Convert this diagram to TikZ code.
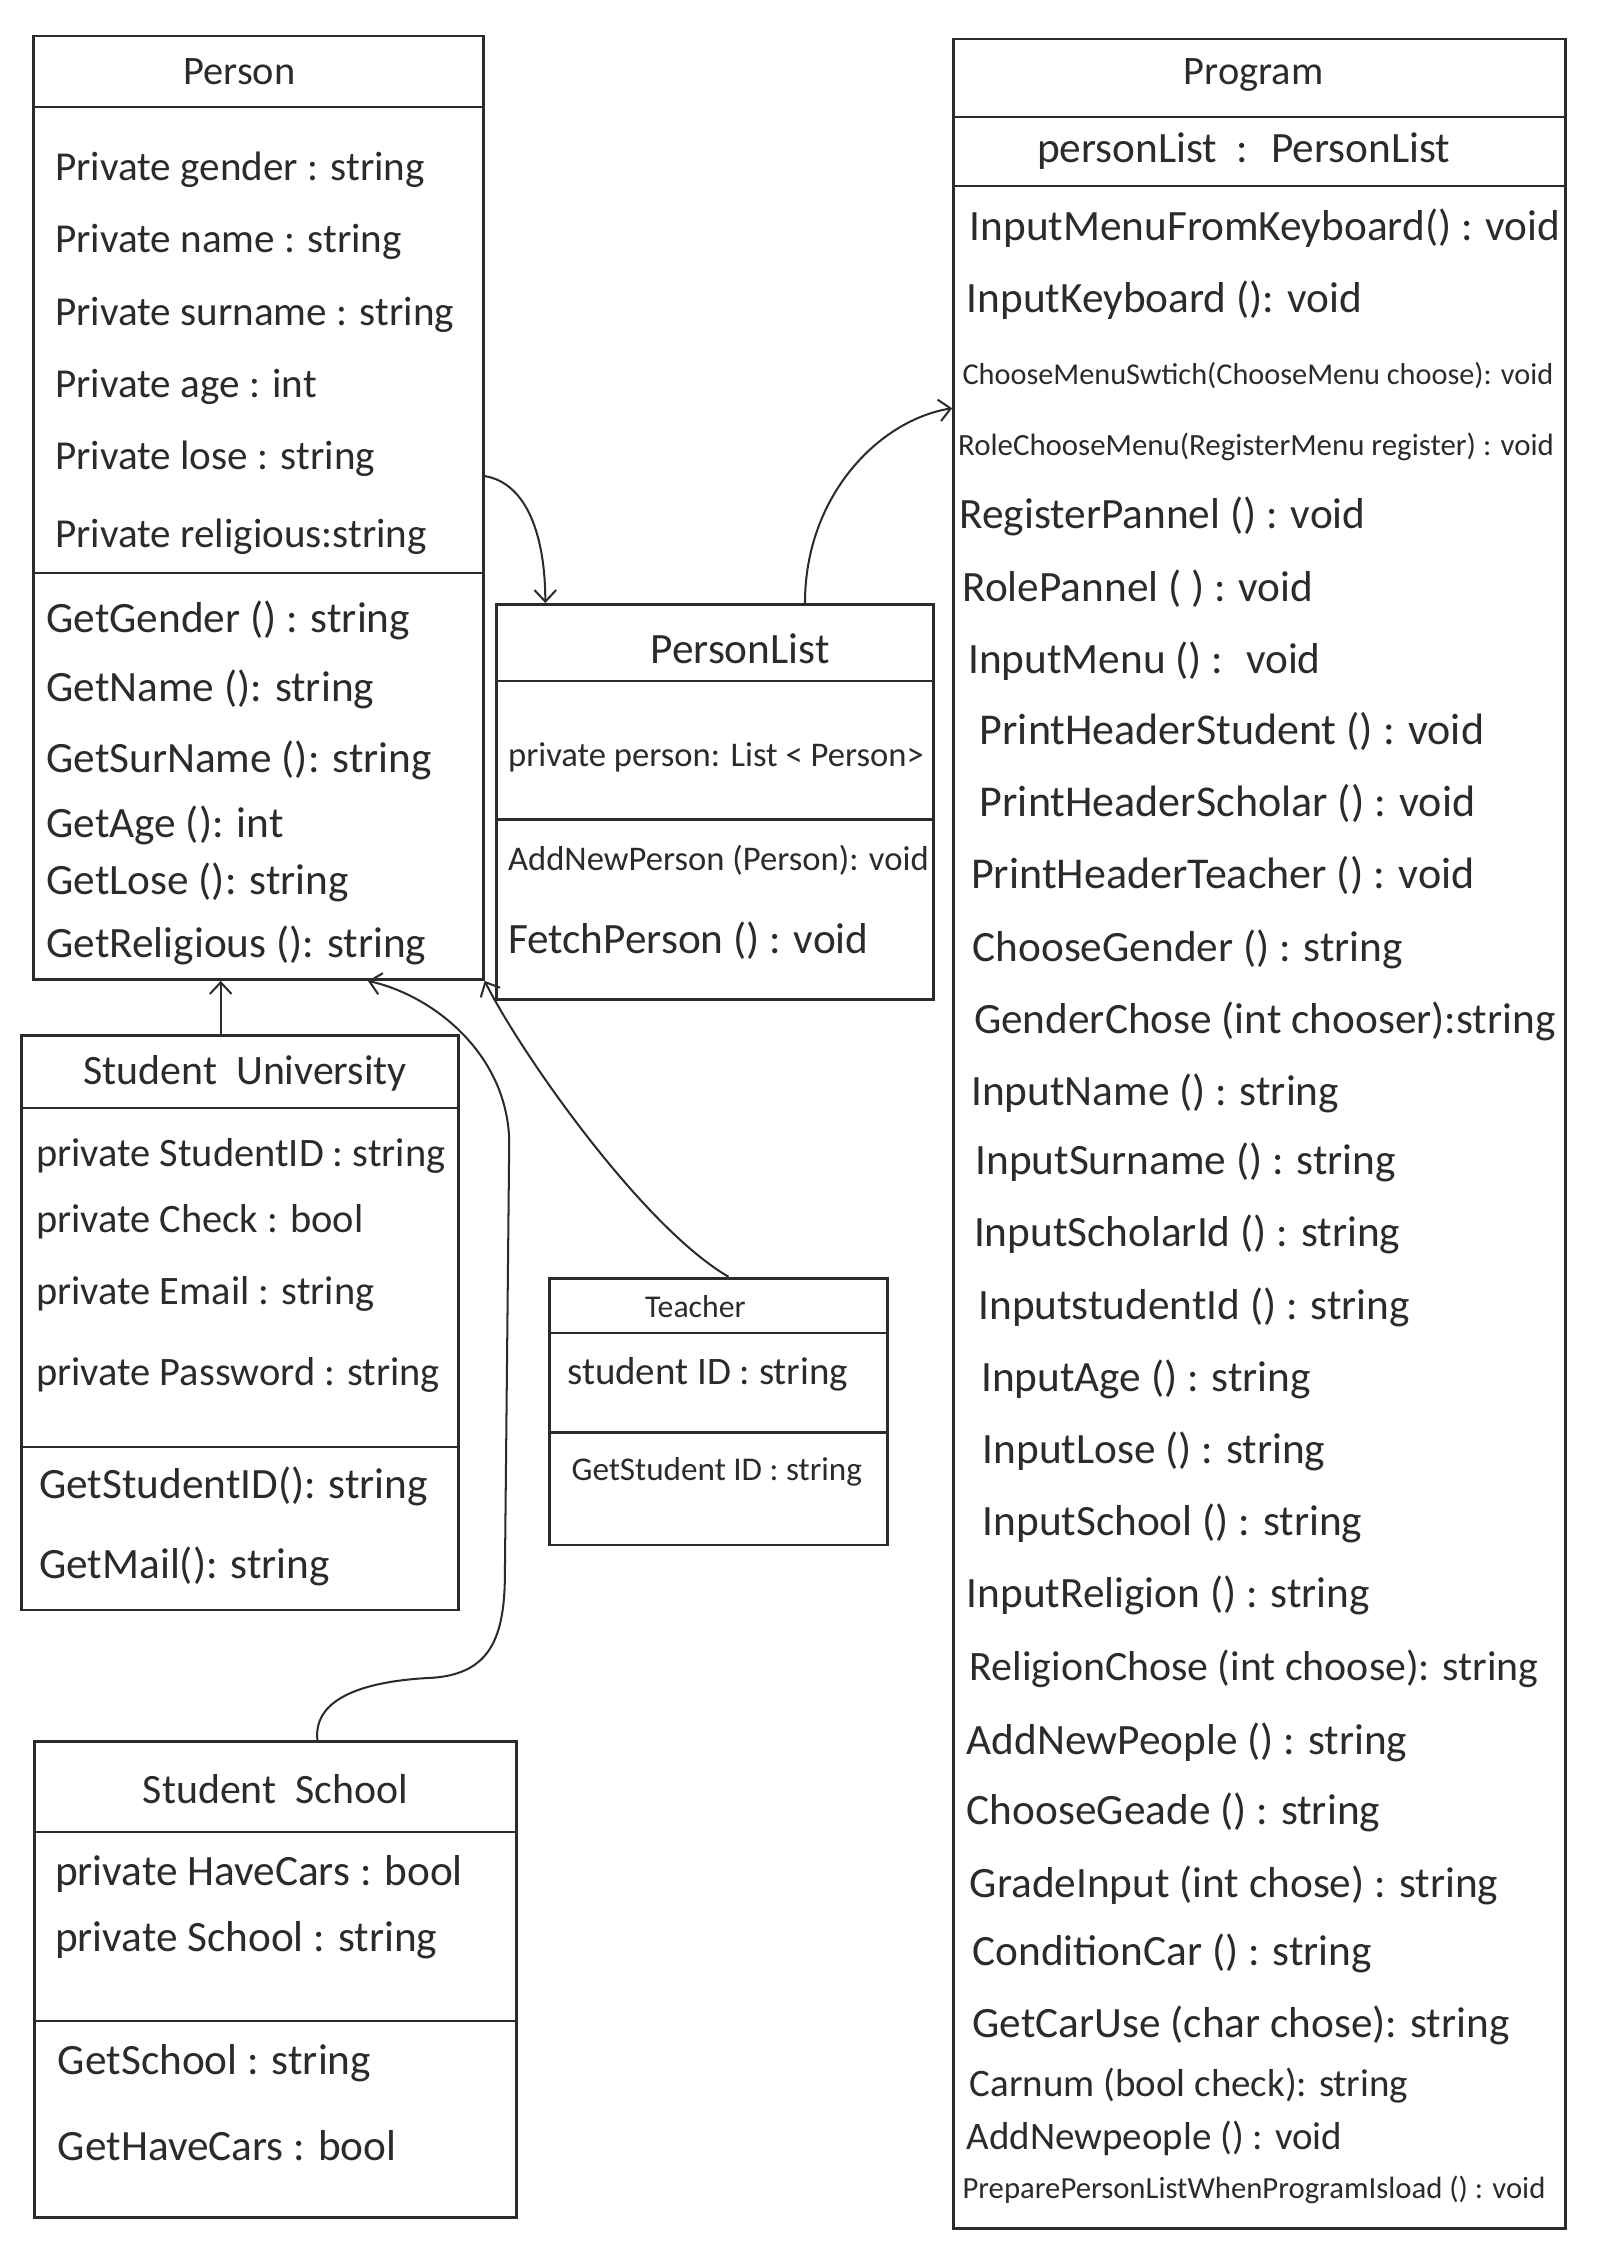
\documentclass[tikz,border=0pt]{standalone}
\usepackage{fontspec}
\setmainfont{Carlito}
\usetikzlibrary{arrows.meta,positioning,fit}
\definecolor{ink}{HTML}{2B2B2B}
\tikzset{
  classbox/.style={draw=ink,line width=1.9pt,inner sep=0pt},
  sep/.style={draw=ink,line width=1.6pt},
  title/.style={text=ink,inner sep=0pt,font=\fontsize{#1}{#1}\selectfont},
  title/.default=28,
  member/.style={text=ink,anchor=west,inner sep=0pt,font=\fontsize{#1}{#1}\selectfont},
  member/.default=28,
  arrow/.style={-{Straight Barb[length=8pt,width=15pt]},draw=ink,line width=1.4pt}
}

\begin{document}
\begin{tikzpicture}[x=1pt,y=-1pt]
\useasboundingbox (0,0) rectangle (1109,1568);

% class boxes
\node[classbox,fit={(23,25) (335,679)}] (person) {};
\node[classbox,fit={(344,419) (647,693)}] (plist) {};
\node[classbox,fit={(661,27) (1085,1545)}] (prog) {};
\node[classbox,fit={(15,718) (318,1116)}] (uni) {};
\node[classbox,fit={(381,886) (615,1071)}] (teacher) {};
\node[classbox,fit={(24,1207) (358,1537)}] (school) {};
\foreach \b/\y in {person/74,person/397,plist/472,plist/568,prog/81,prog/129,
    uni/768,uni/1003,teacher/924,teacher/993,school/1270,school/1401}
  \draw[sep] (\b.west |- 0,\y) -- (\b.east |- 0,\y);

% titles
\node[title] (person-t) at (166,50) {Person};
\node[title=30] (plist-t) at (513,450) {PersonList};
\node[title] (prog-t) at (869,52) {Program};
\node[title=30] (prog-a) at (862,105) {personList \ : \ PersonList};
\node[title=29] (uni-t) at (170,744) {Student \ University};
\node[title=22] (teacher-t) at (482,906) {Teacher};
\node[title=29] (school-t) at (191,1240) {Student \ School};

% Person
\foreach \y/\t [count=\i] in {118/Private gender : string,168/Private name : string,
    218/Private surname : string,268/Private age : int,318/Private lose : string,
    372/Private religious:string}
  \node[member=28.5] (person-a\i) at (38,\y) {\t};
\foreach \y/\t [count=\i] in {430/GetGender () : string,478/GetName (): string,
    527/GetSurName (): string,572/GetAge (): int,612/GetLose (): string,
    655/GetReligious (): string}
  \node[member=30] (person-m\i) at (32,\y) {\t};

% PersonList
\node[member=24] (plist-a1) at (352,525) {private person: List < Person>};
\node[member=24] (plist-m1) at (352,596) {AddNewPerson (Person): void};
\node[member=30] (plist-m2) at (352,652) {FetchPerson () : void};

% Program
\foreach \x/\y/\s/\t [count=\i] in {672/158/30/InputMenuFromKeyboard() : void,
    670/208/30/InputKeyboard (): void,
    667/260/21/ChooseMenuSwtich(ChooseMenu choose): void,
    664/310/21.4/RoleChooseMenu(RegisterMenu register) : void,
    665/358/30/RegisterPannel () : void,
    667/408/30/RolePannel ( ) : void,
    671/458/30/InputMenu () : \ void,
    679/507/30.5/PrintHeaderStudent () : void,
    679/557/30.5/PrintHeaderScholar () : void,
    673/607/30.5/PrintHeaderTeacher () : void,
    674/658/30/ChooseGender () : string,
    675/708/30/GenderChose (int chooser):string,
    673/758/30/InputName () : string,
    676/806/30/InputSurname () : string,
    675/856/30/InputScholarId () : string,
    678/906/30/InputstudentId () : string,
    680/956/30/InputAge () : string,
    681/1006/30/InputLose () : string,
    681/1056/30/InputSchool () : string,
    670/1106/30/InputReligion () : string,
    672/1157/29/ReligionChose (int choose): string,
    670/1208/30/AddNewPeople () : string,
    670/1256/30/ChooseGeade () : string,
    672/1307/30/GradeInput (int chose) : string,
    674/1354/30/ConditionCar () : string,
    674/1404/30/GetCarUse (char chose): string,
    672/1446/27/Carnum (bool check): string,
    670/1482/27/AddNewpeople () : void,
    667/1518/21.3/PreparePersonListWhenProgramIsload () : void}
  \node[member=\s] (prog-m\i) at (\x,\y) {\t};

% Student University
\foreach \y/\t [count=\i] in {801/private StudentID : string,847/private Check : bool,
    897/private Email : string,953/private Password : string}
  \node[member] (uni-a\i) at (25,\y) {\t};
\node[member=30] (uni-m1) at (27,1030) {GetStudentID(): string};
\node[member=30] (uni-m2) at (27,1086) {GetMail(): string};

% Teacher
\node[member=27] (teacher-a1) at (393,953) {student ID : string};
\node[member=23] (teacher-m1) at (396,1020) {GetStudent ID : string};

% Student School
\node[member=30] (school-a1) at (38,1299) {private HaveCars : bool};
\node[member=30] (school-a2) at (38,1345) {private School : string};
\node[member=30] (school-m1) at (40,1430) {GetSchool : string};
\node[member=30] (school-m2) at (40,1487) {GetHaveCars : bool};

% connectors
\draw[arrow] (person.east |- 0,330) .. controls +(30,5) and +(0,-45) .. (plist.north -| 378,0);
\draw[arrow] (plist.north -| 558,0) .. controls +(0,-75) and +(-50,8) .. (prog.west |- 0,283);
\draw[arrow] (uni.north -| 153,0) -- (person.south -| 153,0);
\draw[arrow] (teacher.north -| 505,0) .. controls +(-60,-35) and +(25,50) .. (person.south east);
\draw[arrow] (school.north -| 220,0) .. controls +(-3,-30) and +(-45,2) .. (300,1163)
  .. controls +(40,-3) and +(0,45) .. (350,1090) -- (353,790)
  .. controls +(-2,-60) and +(45,10) .. (person.south -| 255,0);
\end{tikzpicture}
\end{document}
